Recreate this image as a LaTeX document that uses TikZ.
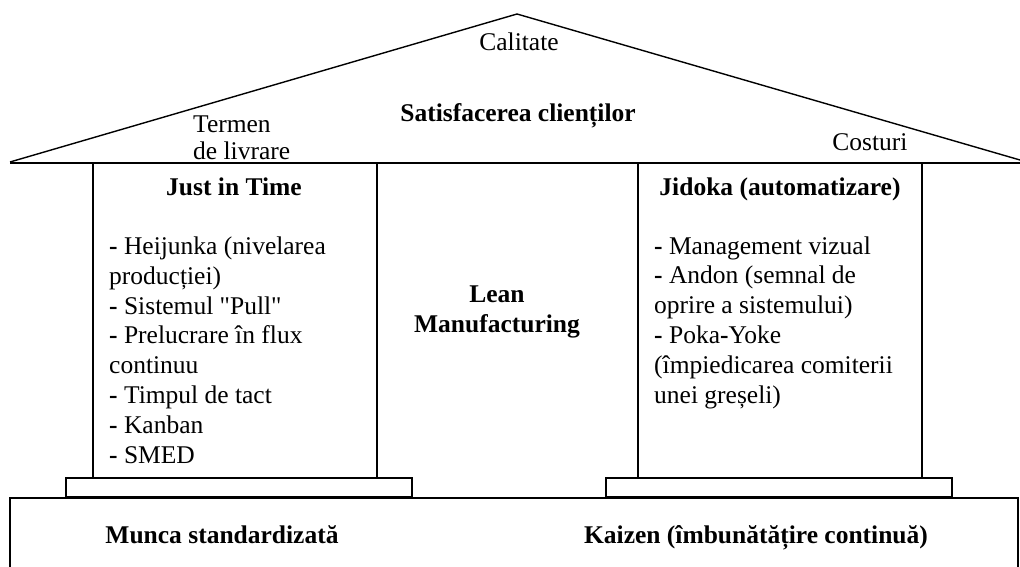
\documentclass[tikz,border=0pt]{standalone}
\usepackage{fontspec}
\setmainfont{Liberation Serif}[Ligatures=TeXOff]
\usepackage{tikz}

\begin{document}
\begin{tikzpicture}[x=1pt, y=-1pt,
    pillar/.style = {draw,
      line width = 1.6pt,
      minimum width = 284pt,
      minimum height = 315pt},
    plinth/.style = {draw,
      line width = 1.6pt,
      minimum width = 346pt,
      minimum height = 19pt},
    txt/.style = {inner sep = 0pt,
      font = \fontsize{25.5}{29.8}\selectfont},
    head/.style = {txt,
      font = \fontsize{25.5}{29.8}\selectfont\bfseries}]

\useasboundingbox (0,0) rectangle (1020,567);

% acoperisul
\draw [line width = 1.4pt] (10,162) -- (517,14) -- (1020,160);
\draw [line width = 2pt] (10,163) -- (1020,163);

% stalpii si soclurile
\node (pillarL) [pillar] at (235,320.5) {};
\node (pillarR) [pillar] at (780,320.5) {};
\node (plinthL) [plinth] at (239,487.5) {};
\node (plinthR) [plinth] at (779,487.5) {};

% fundatia
\draw [line width = 2pt] (10,567) -- (10,498) -- (1018,498) -- (1018,567);

% multi-line nodes: base = last line
\node (calitate) [txt, anchor=base] at (519,51) {Calitate};
\node (satisf) [head, anchor=base] at (518,122) {Satisfacerea clienților};
\node (termen) [txt, align=left, anchor=base west] at (193,160) {Termen\\[-2pt]de livrare};
\node (costuri) [txt, anchor=base] at (870,150) {Costuri};

\node (jit) [head, anchor=base] at (234,195) {Just in Time};
\node (jitlist) [txt, align=left, anchor=base west] at (109,463)
  {\textbf{-} Heijunka (nivelarea\\producției)\\\textbf{-} Sistemul "Pull"\\
   \textbf{-} Prelucrare în flux\\continuu\\\textbf{-} Timpul de tact\\
   \textbf{-} Kanban\\\textbf{-} SMED};

\node (lean) [head, align=center, anchor=base] at (497,332) {Lean\\Manufacturing};

\node (jidoka) [head, anchor=base] at (780,195) {Jidoka (automatizare)};
\node (jidlist) [txt, align=left, anchor=base west] at (654,403)
  {\textbf{-} Management vizual\\\textbf{-} Andon (semnal de\\oprire a sistemului)\\
   \textbf{-} Poka\textbf{-}Yoke\\(împiedicarea comiterii\\unei greșeli)};

\node (munca) [head, anchor=base] at (222,543) {Munca standardizată};
\node (kaizen) [head, anchor=base] at (756,543) {Kaizen (îmbunătățire continuă)};

\end{tikzpicture}
\end{document}
